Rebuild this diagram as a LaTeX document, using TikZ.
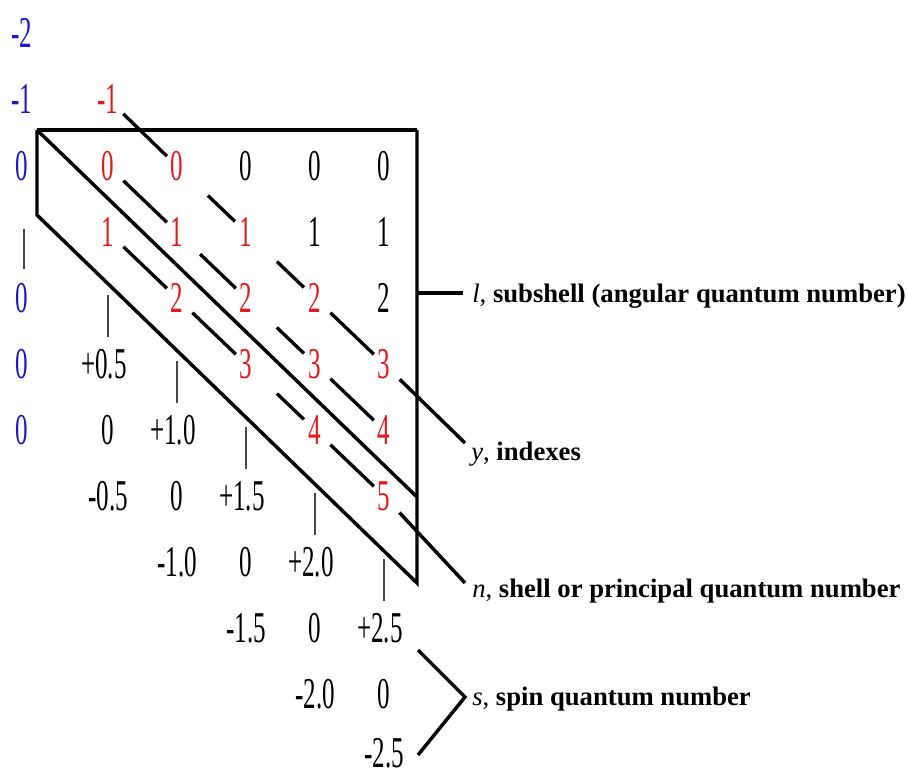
\documentclass[tikz,border=0pt]{standalone}
\usepackage{fontspec}
\setmainfont{Liberation Serif}
\newfontfamily\narrowserif[FakeStretch=0.57]{Liberation Serif}
\usetikzlibrary{calc}
\definecolor{qblue}{RGB}{25,25,200}
\definecolor{qred}{RGB}{230,25,25}

\begin{document}
\begin{tikzpicture}[x=0.75pt, y=-0.75pt,
    num/.style={font=\narrowserif\fontsize{33}{33}\selectfont, inner sep=0pt},
    nblue/.style={num, text=qblue},
    nred/.style={num, text=qred},
    edge/.style={line width=2.6pt},
    link/.style={line width=2.5pt, shorten <=16pt, shorten >=10.5pt},
    shortlink/.style={link, shorten <=32pt, shorten >=11.5pt},
    tick/.style={gray!55!black, line width=0.9pt},
    lab/.style={anchor=base west, inner sep=0pt, font=\fontsize{20}{20}\selectfont}
  ]
  \useasboundingbox (0,0) rectangle (907,777);

  % blue column
  \node[nblue] (bm2) at (22,33) {-2};
  \node[nblue] (bm1) at (22,99) {-1};
  \node[nblue] (b0)  at (22,166) {0};
  \node[nblue] (b2)  at (22,298) {0};
  \node[nblue] (b3)  at (22,364) {0};
  \node[nblue] (b4)  at (22,430) {0};
  \draw[tick] (24,229) -- (24,269);

  % l values, black part
  \foreach \c/\r/\v in {3/0/0,4/0/0,5/0/0,4/1/1,5/1/1,5/2/2}
    \node[num] (n\c\r) at ({108+69*(\c-1)},{166+66*\r}) {\v};

  % red indexes
  \node[nred] (n1m) at (108,99) {-1};
  \foreach \c/\r in {1/0,2/0,1/1,2/1,3/1,2/2,3/2,4/2,3/3,4/3,5/3,4/4,5/4,5/5}
    \node[nred] (n\c\r) at ({108+69*(\c-1)},{166+66*\r}) {\r};

  % spin values
  \foreach \k/\p/\m in {1/+0.5/-0.5,2/+1.0/-1.0,3/+1.5/-1.5,4/+2.0/-2.0,5/+2.5/-2.5} {
    \node[num] (sp\k) at ({104+69*(\k-1)},{166+66*(\k+2)}) {\p};
    \node[num] (sz\k) at ({108+69*(\k-1)},{166+66*(\k+3)}) {0};
    \node[num] (sm\k) at ({108+69*(\k-1)},{min(166+66*(\k+4),753)}) {\m};
    \draw[tick] ({108+69*(\k-1)},{166+66*(\k+1)-3}) -- ++(0,42);
  }

  % frame
  \coordinate (tl) at (37,130);
  \coordinate (tr) at (417,130);
  \coordinate (bl) at (37,215);
  \coordinate (br) at (417,583);
  \coordinate (dm) at (417,497);
  \draw[edge, line width=3.2pt] (tl) -- (tr);
  \draw[edge] (tl) -- (bl) -- (br) -- (tr);
  \draw[edge] (tl) -- (dm);

  % diagonal links
  \foreach \a/\b in {n1m/n20,n10/n21,n11/n22,n22/n33,n42/n53,n43/n54,n44/n55}
    \draw[link] (\a.center) -- (\b.center);
  \foreach \a/\b in {n20/n31,n31/n42,n32/n43,n33/n44}
    \draw[shortlink] (\a.center) -- (\b.center);
  \draw[link, shorten <=24pt] (n21.center) -- (n32.center);

  % labels
  \node[lab] (lab-l) at (472,303) {\textit{l}, \textbf{subshell (angular quantum number)}};
  \node[lab] (lab-y) at (471,460) {\textit{y}, \textbf{indexes}};
  \node[lab] (lab-n) at (472,597) {\textit{n}, \textbf{shell or principal quantum number}};
  \node[lab] (lab-s) at (472,705) {\textit{s}, \textbf{spin quantum number}};

  % pointers
  \coordinate (lpt) at (463,293);
  \coordinate (ypt) at (465,443);
  \coordinate (npt) at (465,583);
  \draw[edge] (tr |- lpt) -- (lpt);
  \draw[edge, shorten <=16.5pt] (n53.center) -- (ypt);
  \draw[edge, shorten <=17pt] (n55.center) -- (npt);
  \coordinate (sa) at (418,650);
  \coordinate (sv) at (465,697);
  \coordinate (sb) at (418,755);
  \draw[edge] (sa) -- (sv) -- (sb);
\end{tikzpicture}
\end{document}
